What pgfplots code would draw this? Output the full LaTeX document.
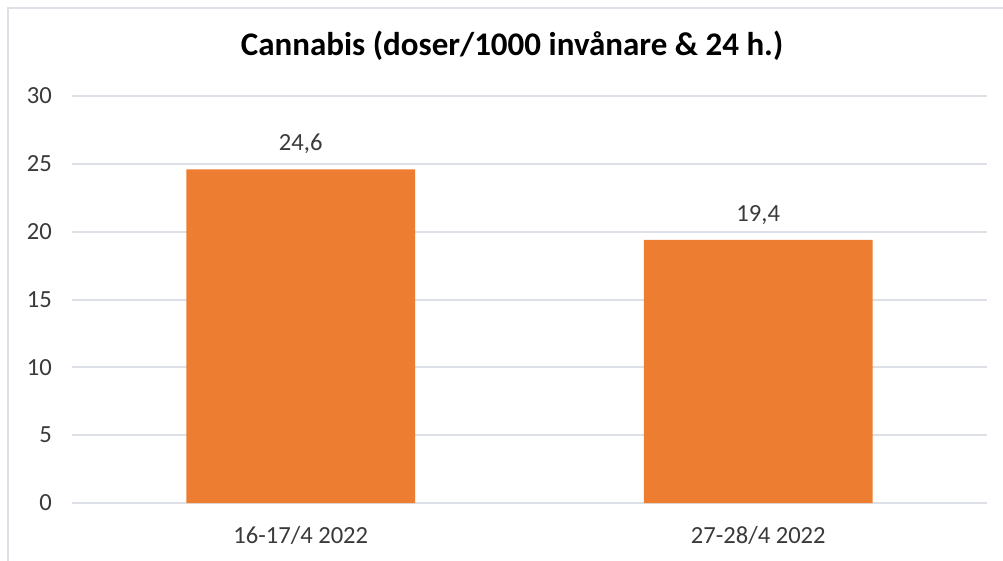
\documentclass[border=0pt]{standalone}
\usepackage{fontspec}
\setmainfont{Carlito}
\usepackage{pgfplots}
\pgfplotsset{compat=1.18}
\definecolor{barorange}{HTML}{ED7D31}
\definecolor{gridc}{HTML}{DDE1E7}
\definecolor{txt}{HTML}{3A3A3A}
\definecolor{borderc}{HTML}{DDE1E7}
\begin{document}
\begin{tikzpicture}
\useasboundingbox (0pt,0pt) rectangle (1003pt,560pt);
\fill[white] (0pt,0pt) rectangle (1003pt,560pt);
\draw[borderc, line width=2pt] (8pt,-5pt) -- (8pt,552pt) -- (1010pt,552pt);
\node[anchor=base, inner sep=0pt, text=black, font=\fontsize{33}{40}\selectfont\bfseries] at (512pt,504pt) {Cannabis (doser/1000 invånare \& 24 h.)};
\begin{axis}[
  at={(72pt,57pt)}, anchor=south west,
  scale only axis, width=915pt, height=407pt,
  xmin=-0.5, xmax=1.5, ymin=0, ymax=30,
  axis line style={draw=none},
  ybar, bar width=0.5,
  ytick={0,5,...,30},
  xtick={0,1},
  xticklabels={16-17/4 2022, 27-28/4 2022},
  major tick length=0pt,
  ymajorgrids, grid style={gridc, line width=2pt},
  tick label style={font=\fontsize{24.6}{30}\selectfont, text=txt},
  yticklabel style={anchor=east, inner sep=0pt, xshift=-20pt},
  xticklabel style={anchor=base, inner sep=0pt, yshift=-40pt},
  /pgf/number format/assume math mode=true,
  nodes near coords,
  nodes near coords style={anchor=base, inner sep=0pt, yshift=18.5pt, font=\fontsize{24.6}{30}\selectfont, text=txt,
    /pgf/number format/.cd, fixed, fixed zerofill, precision=1, use comma},
]
\addplot[fill=barorange, draw=none] coordinates {(0,24.6) (1,19.4)};
\end{axis}
\end{tikzpicture}
\end{document}
